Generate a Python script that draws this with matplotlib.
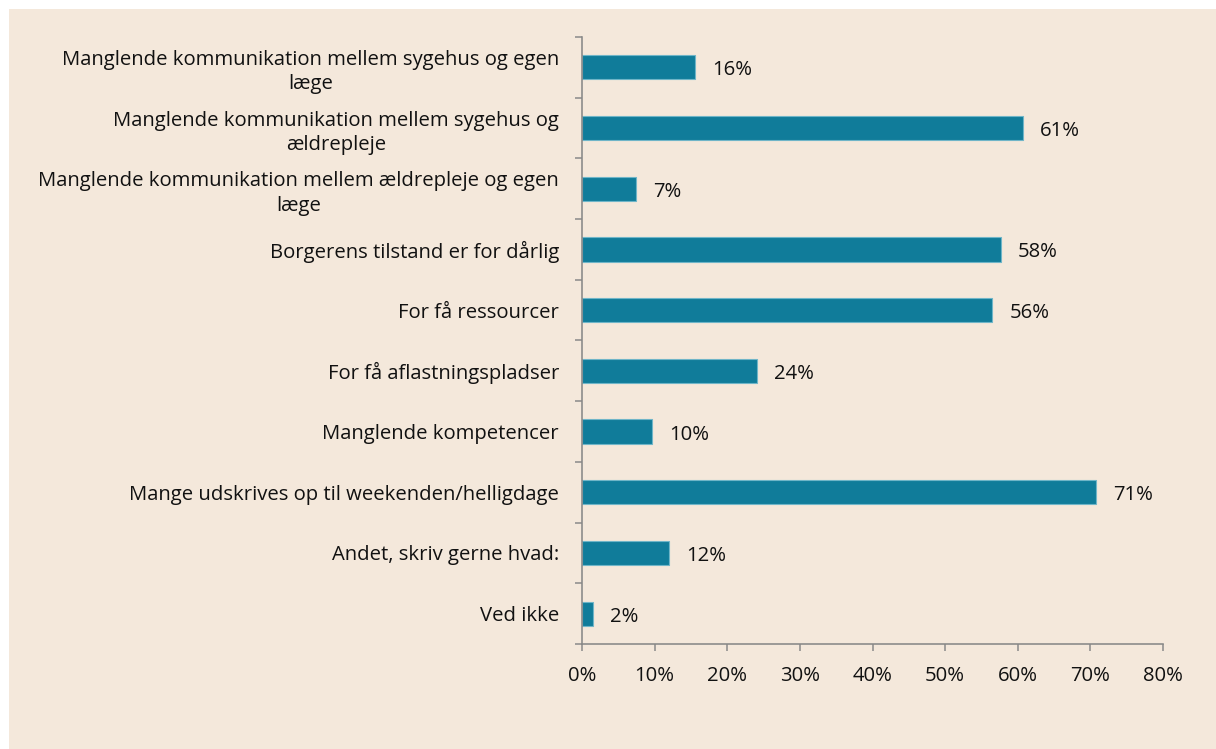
import matplotlib
matplotlib.use("Agg")
import matplotlib.pyplot as plt
from matplotlib.patches import Rectangle
from matplotlib.ticker import FuncFormatter, MultipleLocator

categories = [
    "Manglende kommunikation mellem sygehus og egen\nlæge",
    "Manglende kommunikation mellem sygehus og\nældrepleje",
    "Manglende kommunikation mellem ældrepleje og egen\nlæge",
    "Borgerens tilstand er for dårlig",
    "For få ressourcer",
    "For få aflastningspladser",
    "Manglende kompetencer",
    "Mange udskrives op til weekenden/helligdage",
    "Andet, skriv gerne hvad:",
    "Ved ikke",
]
values = [15.6, 60.7, 7.4, 57.7, 56.5, 24.1, 9.6, 70.8, 12.0, 1.5]
labels = ["16%", "61%", "7%", "58%", "56%", "24%", "10%", "71%", "12%", "2%"]

plt.rcParams['font.family'] = ['Open Sans', 'DejaVu Sans']

W, H = 1216, 749
PX = 72 / 100  # points per pixel
FS = 14.6
fig = plt.figure(figsize=(W / 100, H / 100), dpi=100, facecolor="white")
bg = "#F4E8DB"
fig.patches.append(Rectangle((9 / W, 0), 1 - 9 / W, 1 - 9 / H, transform=fig.transFigure,
                             facecolor=bg, edgecolor="none", linewidth=0, zorder=-10))

ax = fig.add_axes([582 / W, 1 - 644 / H, (1163 - 582) / W, (644 - 37) / H])
ax.set_facecolor("none")

y = list(range(len(categories)))
ax.barh(y, values, height=0.4, color="#107C9A", edgecolor="#6FB5C8", linewidth=0.8)
for yi, v, lab in zip(y, values, labels):
    ax.annotate(lab, (v, yi), xytext=(17, -3), textcoords="offset pixels",
                va="center", ha="left", fontsize=FS, color="#111111")

ax.set_ylim(len(categories) - 0.5, -0.5)
ax.set_xlim(0, 80)
ax.xaxis.set_major_locator(MultipleLocator(10))
ax.xaxis.set_major_formatter(FuncFormatter(lambda x, p: f"{x:.0f}%"))

ax.set_yticks([i - 0.5 for i in range(len(categories) + 1)], minor=False)
ax.set_yticklabels([])
ax.set_yticks(y, minor=True)
ax.set_yticklabels(categories, minor=True, fontsize=FS, color="#111111",
                   multialignment="center", linespacing=1.3)
ax.tick_params(axis="y", which="minor", length=0, pad=23 * PX)
ax.tick_params(axis="y", which="major", length=7 * PX, width=1.5 * PX, color="#888888")
ax.tick_params(axis="x", length=7 * PX, width=1.5 * PX, color="#888888", pad=15 * PX,
               labelsize=FS, labelcolor="#111111")

for s in ["top", "right"]:
    ax.spines[s].set_visible(False)
for s in ["left", "bottom"]:
    ax.spines[s].set_color("#888888")
    ax.spines[s].set_linewidth(1.6 * PX)

fig.savefig("out.png", dpi=100, facecolor="white")
